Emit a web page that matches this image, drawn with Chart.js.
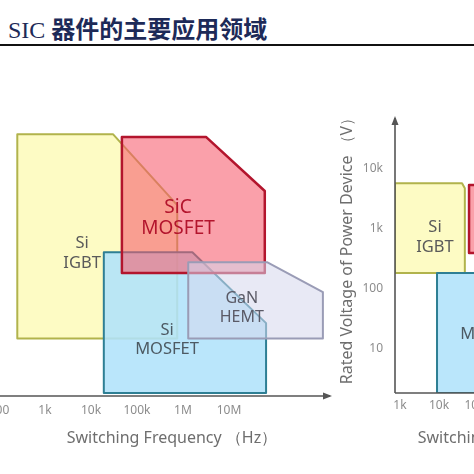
<!DOCTYPE html>
<html>
<head>
<meta charset="utf-8">
<title>SIC 器件的主要应用领域</title>
<script src="https://cdn.jsdelivr.net/npm/chart.js@4.4.1/dist/chart.umd.min.js"></script>
<style>
  html, body { margin: 0; padding: 0; background: #fff; }
  body { position: relative; width: 474px; height: 474px; overflow: hidden; }
  #heading { position: absolute; left: 8px; top: 14px; line-height: 28px; font-size: 24px; color: #1d2a58;
             white-space: nowrap; font-family: "Liberation Serif", serif; }
  #heading .zh { font-family: "Noto Sans CJK SC", sans-serif; font-weight: 700; }
  #rule { position: absolute; left: 0; top: 44px; width: 474px; height: 2px; background: #111; }
  canvas { position: absolute; top: 0; }
  #leftChart { left: 0; }
  #rightChart { left: 330px; }
</style>
</head>
<body>
<div id="heading">SIC <span class="zh">器件的主要应用领域</span></div>
<div id="rule"></div>
<canvas id="leftChart" width="345" height="474"></canvas>
<canvas id="rightChart" width="330" height="474"></canvas>
<script>
// axis ticks
const freqTicks = [1e2, 1e3, 1e4, 1e5, 1e6, 1e7];
const freqTickLabels = ['100', '1k', '10k', '100k', '1M', '10M'];
const freqTicksR = [1e3, 1e4, 1e5, 1e6, 1e7, 1e8];
const freqTickLabelsR = ['1k', '10k', '100k', '1M', '10M', '100M'];
const voltTicks = [1e1, 1e2, 1e3, 1e4];
const voltTickLabels = ['10', '100', '1k', '10k'];

// left panel outlines, corner by corner (Hz / V)
const igbtFreq = [250, 30000, 750000, 750000, 250, 250];
const igbtVolt = [38000, 38000, 2500, 15, 15, 38000];
const sicFreq = [47000, 3.2e6, 6e7, 6e7, 47000, 47000];
const sicVolt = [34000, 34000, 4300, 185, 185, 34000];
const siMosFreq = [19000, 1.6e6, 6.4e7, 6.4e7, 19000, 19000];
const siMosVolt = [410, 410, 27, 1.85, 1.85, 410];
const ganFreq = [1.3e6, 6.7e7, 1.1e9, 1.1e9, 1.3e6, 1.3e6];
const ganVolt = [280, 280, 89, 15, 15, 280];

// right panel outlines
const igbtFreqR = [745, 39000, 46000, 46000, 745, 745];
const igbtVoltR = [5800, 5800, 4800, 185, 185, 5800];
const sicFreqR = [59000, 4e6, 4e6, 59000, 59000];
const sicVoltR = [5400, 5400, 400, 400, 5400];
const siMosFreqR = [8900, 5e6, 5e6, 8900, 8900];
const siMosVoltR = [185, 185, 1.85, 1.85, 185];

// region names and where they are written
const regionNames = { igbt: ['Si', 'IGBT'], sic: ['SiC', 'MOSFET'], siMos: ['Si', 'MOSFET'], gan: ['GaN', 'HEMT'] };
const leftLabelKeys = ['igbt', 'sic', 'siMos', 'gan'];
const leftLabelFreq = [6400, 780000, 450000, 1.9e7];
const leftLabelVolt = [400, 1500, 14.4, 49];
const rightLabelKeys = ['igbt', 'siMos', 'sic'];
const rightLabelFreq = [7900, 230000, 1.5e6];
const rightLabelVolt = [736, 25, 1500];

// styling
const regionFill = { igbt: 'rgba(252, 248, 160, 0.62)', sic: 'rgba(246, 92, 108, 0.58)',
                     siMos: 'rgba(176, 226, 250, 0.88)', gan: 'rgba(214, 215, 236, 0.55)' };
const regionLine = { igbt: '#b1b34c', sic: '#b3152d', siMos: '#2e7f94', gan: '#9a9cb6' };
const regionText = { igbt: '#5a5a5a', sic: '#b3152d', siMos: '#4d5a63', gan: '#5a5a66' };
const regionFont = { igbt: 16.5, sic: 19, siMos: 16.5, gan: 16 };
const regionLead = { igbt: 20, sic: 21, siMos: 19, gan: 19 };
const tickColor = '#8c8c8c';
const titleColor = '#6e6e6e';
const axisColor = '#555';

Chart.defaults.font.family = '"Noto Sans", sans-serif';

function region(key, freq, volt, order) {
  return {
    label: regionNames[key].join(' '),
    data: freq.map((f, i) => ({ x: f, y: volt[i] })),
    fill: 'shape',
    backgroundColor: regionFill[key],
    borderColor: regionLine[key],
    borderWidth: key === 'sic' ? 2.5 : 2,
    borderJoinStyle: 'round',
    borderCapStyle: 'round',
    pointRadius: 0,
    tension: 0,
    order
  };
}

function drawArrow(ctx, x1, y1, x2, y2) {
  const a = Math.atan2(y2 - y1, x2 - x1);
  ctx.beginPath();
  ctx.moveTo(x1, y1);
  ctx.lineTo(x2, y2);
  ctx.stroke();
  ctx.beginPath();
  ctx.moveTo(x2 + 2 * Math.cos(a), y2 + 2 * Math.sin(a));
  ctx.lineTo(x2 - 7 * Math.cos(a) + 3.5 * Math.sin(a), y2 - 7 * Math.sin(a) - 3.5 * Math.cos(a));
  ctx.lineTo(x2 - 7 * Math.cos(a) - 3.5 * Math.sin(a), y2 - 7 * Math.sin(a) + 3.5 * Math.cos(a));
  ctx.closePath();
  ctx.fill();
}

function labelPlugin(keys, freqs, volts) {
  return {
    id: 'regionLabels',
    afterDatasetsDraw(chart) {
      const { ctx, scales: { x, y } } = chart;
      ctx.save();
      ctx.textAlign = 'center';
      ctx.textBaseline = 'middle';
      keys.forEach((k, i) => {
        const px = x.getPixelForValue(freqs[i]);
        const py = y.getPixelForValue(volts[i]);
        const lines = regionNames[k];
        ctx.font = regionFont[k] + 'px "Noto Sans", sans-serif';
        ctx.fillStyle = regionText[k];
        lines.forEach((t, j) => ctx.fillText(t, px, py + (j - (lines.length - 1) / 2) * regionLead[k]));
      });
      ctx.restore();
    }
  };
}

function axisPlugin(draw) {
  return {
    id: 'axisArrows',
    afterDatasetsDraw(chart) {
      const ctx = chart.ctx;
      ctx.save();
      ctx.strokeStyle = axisColor;
      ctx.fillStyle = axisColor;
      ctx.lineWidth = 1.6;
      draw(ctx, chart.chartArea, chart);
      ctx.restore();
    }
  };
}

const noPad = (s) => { s.paddingLeft = 0; s.paddingRight = 0; };

function freqAxis(min, max, ticks, labels, tickPad, titlePadTop) {
  return {
    type: 'logarithmic', min, max,
    grid: { display: false, drawTicks: false },
    border: { display: false },
    afterBuildTicks: (s) => { s.ticks = ticks.map(v => ({ value: v })); },
    afterFit: noPad,
    ticks: { autoSkip: false, maxRotation: 0, padding: tickPad, color: tickColor,
             font: { size: 12 }, callback: (v, i) => labels[i] },
    title: { display: true, text: 'Switching Frequency （Hz）', color: titleColor,
             font: { size: 16 }, padding: { top: titlePadTop, bottom: 0 } }
  };
}

// left panel
new Chart(document.getElementById('leftChart'), {
  type: 'line',
  data: {
    datasets: [
      region('igbt', igbtFreq, igbtVolt, 4),
      region('siMos', siMosFreq, siMosVolt, 3),
      region('sic', sicFreq, sicVolt, 2),
      region('gan', ganFreq, ganVolt, 1)
    ]
  },
  options: {
    responsive: false,
    animation: false,
    events: [],
    layout: { padding: { left: 14, right: 15, top: 110, bottom: 26.4 } },
    plugins: { legend: { display: false }, tooltip: { enabled: false } },
    scales: {
      x: freqAxis(212, 1.57e9, freqTicks, freqTickLabels, 7, 4),
      y: { type: 'logarithmic', display: false, min: 1.65, max: 96000 }
    }
  },
  plugins: [
    labelPlugin(leftLabelKeys, leftLabelFreq, leftLabelVolt),
    axisPlugin((ctx, area) => drawArrow(ctx, 0, area.bottom, area.right, area.bottom))
  ]
});

// right panel
new Chart(document.getElementById('rightChart'), {
  type: 'line',
  data: {
    datasets: [
      region('igbt', igbtFreqR, igbtVoltR, 4),
      region('siMos', siMosFreqR, siMosVoltR, 3),
      region('sic', sicFreqR, sicVoltR, 2)
    ]
  },
  options: {
    responsive: false,
    animation: false,
    events: [],
    layout: { padding: { left: 0, right: 9, top: 101, bottom: 26.4 } },
    plugins: { legend: { display: false }, tooltip: { enabled: false } },
    scales: {
      x: freqAxis(745, 2.73e9, freqTicksR, freqTickLabelsR, 5, 11),
      y: {
        type: 'logarithmic', min: 1.85, max: 136000,
        grid: { display: false, drawTicks: false },
        border: { display: false },
        afterBuildTicks: (s) => { s.ticks = voltTicks.map(v => ({ value: v })); },
        afterFit: (s) => { s.width = 65; },
        ticks: { autoSkip: false, padding: 12, color: tickColor, font: { size: 12 },
                 callback: (v, i) => voltTickLabels[i] },
        title: { display: true, text: 'Rated Voltage of Power Device （V）', color: titleColor,
                 font: { size: 16 }, padding: { top: 7.4, bottom: 0 } }
      }
    }
  },
  plugins: [
    labelPlugin(rightLabelKeys, rightLabelFreq, rightLabelVolt),
    axisPlugin((ctx, area, chart) => {
      drawArrow(ctx, area.left, area.bottom, area.left, area.top + 17);
      drawArrow(ctx, area.left, area.bottom, chart.width, area.bottom);
    })
  ]
});
</script>
</body>
</html>
